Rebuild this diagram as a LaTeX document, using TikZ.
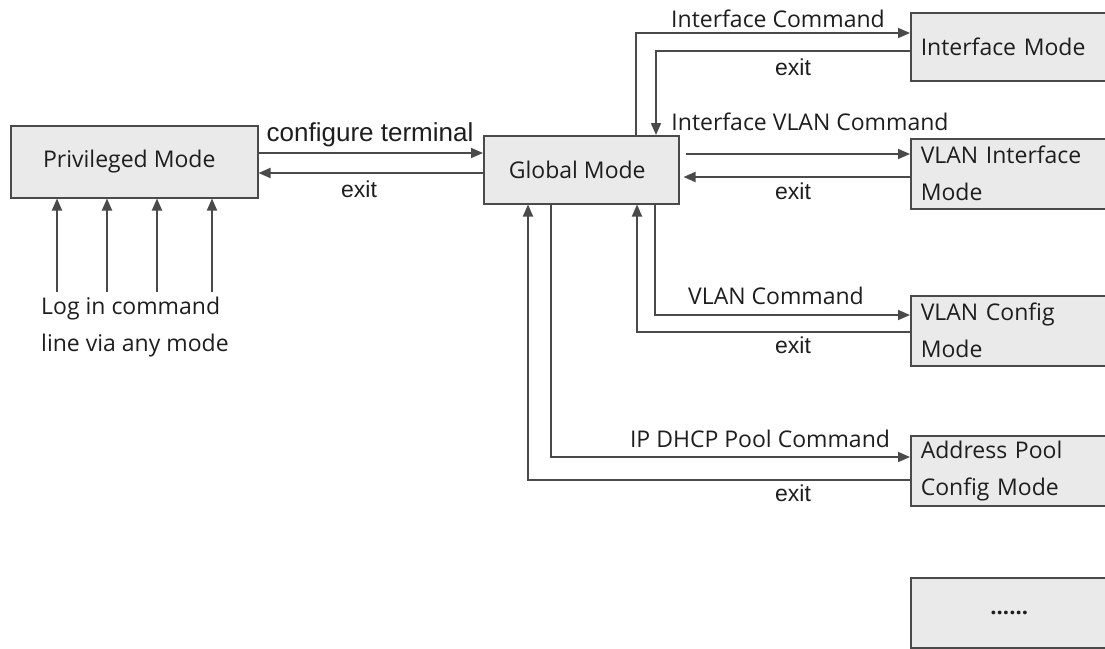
\documentclass[tikz,border=0pt]{standalone}
\usepackage{fontspec}
\setmainfont{Open Sans}
\newfontfamily\arialf{Liberation Sans}
\usetikzlibrary{arrows.meta}
\definecolor{lc}{HTML}{4A4A4A}
\definecolor{bf}{HTML}{EAEAEA}
\definecolor{tc}{HTML}{1E1E1E}
\begin{document}
\begin{tikzpicture}[x=1pt,y=-1pt,
  box/.style={draw=lc, line width=1.5pt, fill=bf, text=tc, inner sep=0pt, font=\fontsize{23}{37}\selectfont},
  rbox/.style={box, anchor=north west, minimum height=68pt, text width=195pt, inner xsep=10pt, align=left},
  arr/.style={draw=lc, line width=1.8pt, -{Triangle[length=12pt,width=10pt]}},
  lab/.style={font=\fontsize{23}{37}\selectfont, text=tc, inner sep=0pt},
  exitlab/.style={font=\arialf\fontsize{23}{26}\selectfont, text=tc, inner sep=0pt}]
\useasboundingbox[fill=white] (0,0) rectangle (1105,648);

% boxes
\node[box, anchor=north west, minimum width=247pt, minimum height=72pt] (P) at (10,125) {Privileged Mode\hspace*{10pt}};
\node[box, anchor=north west, minimum width=195pt, minimum height=68pt] (G) at (483,135) {Global Mode\hspace*{8pt}};
\node[rbox] (IM) at (910,12) {Interface Mode};
\node[rbox, minimum height=70pt] (VI) at (910,138) {VLAN Interface\\Mode};
\node[rbox, minimum height=70pt] (VC) at (910,295) {VLAN Config\\Mode};
\node[rbox, minimum height=70pt] (AP) at (910,435) {Address Pool\\Config Mode};
\node[rbox, minimum height=70pt, align=center, font=\bfseries\fontsize{22}{24}\selectfont] (D) at (910,577) {......\hspace*{18pt}};

% privileged <-> global
\draw[arr] (P.east |- 0,153) -- (G.west |- 0,153);
\draw[arr] (G.west |- 0,173) -- (P.east |- 0,173);
\node[exitlab, font=\arialf\fontsize{26}{28}\selectfont] (ct) at (370,135) {configure terminal};
\node[exitlab] (e0) at (359,189) {exit};

% log in arrows
\foreach \i/\xx in {1/57,2/107,3/157,4/212}{
  \coordinate (L\i) at (\xx,292);
  \draw[arr] (L\i) -- (L\i |- P.south);
}
\node[lab, align=left, anchor=west] (login) at (41,327) {Log in command\\line via any mode};

% interface mode
\draw[arr] (G.north -| 636,0) |- (IM.west |- 0,33);
\draw[arr] (IM.west |- 0,51) -| (G.north -| 656,0);
\node[lab] (l1) at (778,19) {Interface Command};
\node[exitlab] (e1) at (793,67) {exit};

% vlan interface
\draw[arr, shorten <=6pt] (G.east |- 0,154) -- (VI.west |- 0,154);
\draw[arr, shorten >=4pt] (VI.west |- 0,177) -- (G.east |- 0,177);
\node[lab] (l2) at (810,122) {Interface VLAN Command};
\node[exitlab] (e2) at (793,191) {exit};

% vlan config
\draw[arr] (G.south -| 655,0) |- (VC.west |- 0,315);
\draw[arr] (VC.west |- 0,332) -| (G.south -| 637,0);
\node[lab] (l3) at (776,296) {VLAN Command};
\node[exitlab] (e3) at (793,345) {exit};

% address pool
\draw[arr] (G.south -| 551,0) |- (AP.west |- 0,457);
\draw[arr] (AP.west |- 0,480) -| (G.south -| 528,0);
\node[lab] (l4) at (760,439) {IP DHCP Pool Command};
\node[exitlab] (e4) at (793,493) {exit};
\end{tikzpicture}
\end{document}
